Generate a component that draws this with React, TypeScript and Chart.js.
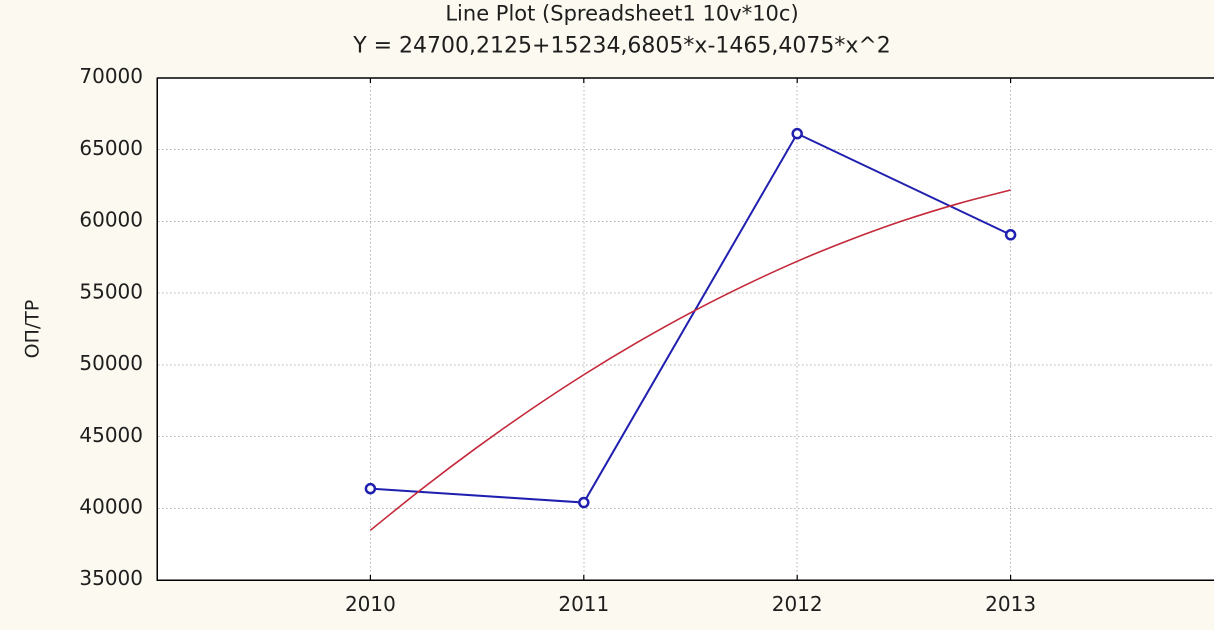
import React, { useEffect, useRef } from "react";
import { Chart, registerables } from "chart.js";

Chart.register(...registerables);

const TITLE = "Line Plot (Spreadsheet1 10v*10c)";
const SUBTITLE = "Y = 24700,2125+15234,6805*x-1465,4075*x^2";
const Y_LABEL = "ОП/ТР";

const years = [2010, 2011, 2012, 2013];
const observed = [41370, 40400, 66120, 59070];

const fitX = [2010, 2010.25, 2010.5, 2010.75, 2011, 2011.25, 2011.5, 2011.75, 2012, 2012.25, 2012.5, 2012.75, 2013];
const fitY = [38470, 41450, 44250, 46870, 49310, 51560, 53630, 55510, 57220, 58730, 60070, 61220, 62190];

const yMin = 35000;
const yMax = 70000;
const yStep = 5000;
const xMin = 2009;
const xMax = 2014;

const PAGE_BG = "#fcfaf0";
const TEXT = "#1e1e1e";
const FONT = "'DejaVu Sans', sans-serif";

export default function App() {
  const ref = useRef<HTMLCanvasElement | null>(null);

  useEffect(() => {
    if (!ref.current) return;

    const bgPlugin = {
      id: "bgPlugin",
      beforeDraw(chart: any) {
        const { ctx, chartArea } = chart;
        ctx.save();
        ctx.fillStyle = PAGE_BG;
        ctx.fillRect(0, 0, chart.width, chart.height);
        ctx.fillStyle = "#ffffff";
        ctx.fillRect(chartArea.left, chartArea.top, chartArea.right - chartArea.left, chartArea.bottom - chartArea.top);
        ctx.restore();
      },
      afterDraw(chart: any) {
        const { ctx, chartArea } = chart;
        const xs = chart.scales.x;
        ctx.save();
        ctx.strokeStyle = "#000000";
        ctx.lineWidth = 1.5;
        ctx.beginPath();
        ctx.moveTo(chartArea.left, chartArea.top);
        ctx.lineTo(chartArea.right, chartArea.top);
        ctx.stroke();
        ctx.lineWidth = 1.2;
        ctx.beginPath();
        years.forEach((yr) => {
          const px = xs.getPixelForValue(yr);
          ctx.moveTo(px, chartArea.bottom);
          ctx.lineTo(px, chartArea.bottom - 5);
          ctx.moveTo(px, chartArea.top);
          ctx.lineTo(px, chartArea.top + 5);
        });
        ctx.stroke();
        ctx.fillStyle = TEXT;
        ctx.textAlign = "center";
        ctx.textBaseline = "middle";
        ctx.font = `21px ${FONT}`;
        ctx.fillText(TITLE, 622, 15);
        ctx.font = `22px ${FONT}`;
        ctx.fillText(SUBTITLE, 622, 47);
        ctx.restore();
      },
    };

    const chart = new Chart(ref.current, {
      type: "line",
      data: {
        datasets: [
          {
            label: "fit",
            data: fitX.map((x, i) => ({ x, y: fitY[i] })),
            borderColor: "#c4283a",
            borderWidth: 1.6,
            pointRadius: 0,
            tension: 0.4,
            fill: false,
          },
          {
            label: "ОП/ТР",
            data: years.map((x, i) => ({ x, y: observed[i] })),
            borderColor: "#2020b0",
            borderWidth: 2,
            pointRadius: 4.5,
            pointBorderWidth: 2.5,
            pointBackgroundColor: "#ffffff",
            pointBorderColor: "#2020b0",
            tension: 0,
            fill: false,
          },
        ],
      },
      options: {
        animation: false,
        responsive: true,
        maintainAspectRatio: false,
        devicePixelRatio: 2,
        layout: { padding: { top: 78, right: 16, left: 0, bottom: 0 } },
        plugins: {
          legend: { display: false },
          title: { display: false },
          tooltip: { enabled: false },
        },
        scales: {
          x: {
            type: "linear",
            min: xMin,
            max: xMax,
            afterBuildTicks: (scale: any) => {
              scale.ticks = years.map((v) => ({ value: v }));
            },
            afterFit: (scale: any) => {
              scale.height = 50;
            },
            grid: {
              color: "#b4b4b4",
              lineWidth: 1,
              drawTicks: false,
            },
            border: { display: true, color: "#000000", width: 1.5, dash: [1.5, 2.5] },
            ticks: {
              padding: 14,
              color: TEXT,
              font: { family: FONT, size: 20 },
              callback: (v: any) => String(v),
              maxRotation: 0,
            },
          },
          y: {
            min: yMin,
            max: yMax,
            afterFit: (scale: any) => {
              scale.width = 157;
            },
            grid: {
              color: "#b4b4b4",
              lineWidth: 1,
              drawTicks: false,
            },
            border: { display: true, color: "#000000", width: 1.5, dash: [1.5, 2.5] },
            ticks: {
              stepSize: yStep,
              padding: 14,
              color: TEXT,
              font: { family: FONT, size: 20 },
              callback: (v: any) => String(v),
            },
            title: {
              display: true,
              text: Y_LABEL,
              color: TEXT,
              font: { family: FONT, size: 19 },
              padding: { top: 22, bottom: 0 },
            },
          },
        },
      },
      plugins: [bgPlugin],
    } as any);

    return () => chart.destroy();
  }, []);

  return (
    <div
      style={{
        position: "fixed",
        left: 0,
        top: 0,
        width: 1214,
        height: 630,
        overflow: "hidden",
        background: PAGE_BG,
      }}
    >
      <div style={{ position: "relative", width: 1240, height: 630 }}>
        <canvas ref={ref} />
      </div>
    </div>
  );
}
